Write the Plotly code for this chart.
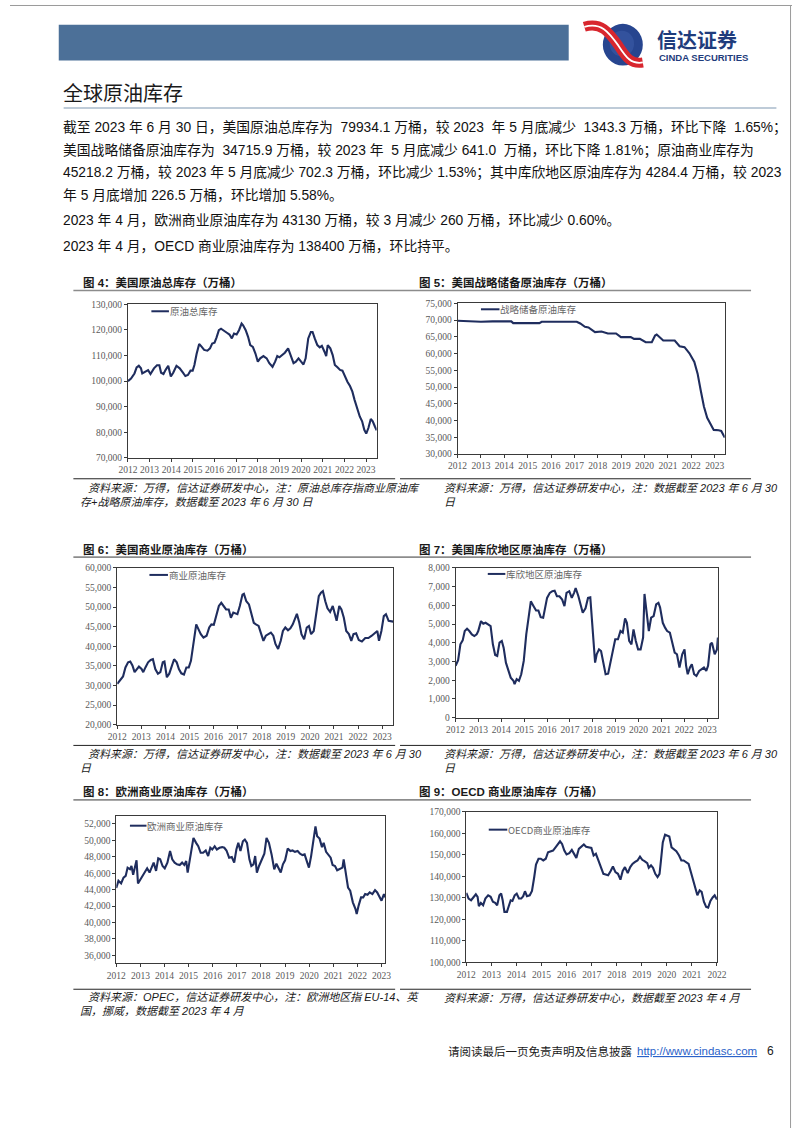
import plotly.graph_objects as go

# ---------------- data ----------------
YEARS = [2012, 2013, 2014, 2015, 2016, 2017, 2018, 2019, 2020, 2021, 2022, 2023]
OECD_YEARS = [2012, 2013, 2014, 2015, 2016, 2017, 2018, 2019, 2020, 2021, 2022]

US_TOTAL_X = [2012.00, 2012.14, 2012.30, 2012.40, 2012.50, 2012.60, 2012.66, 2012.80, 2012.93, 2013.04,
              2013.20, 2013.34, 2013.45, 2013.53, 2013.64, 2013.74, 2013.86, 2013.98, 2014.09, 2014.24,
              2014.39, 2014.54, 2014.65, 2014.77, 2014.89, 2014.99, 2015.07, 2015.17, 2015.29, 2015.40,
              2015.52, 2015.67, 2015.79, 2015.89, 2016.00, 2016.09, 2016.20, 2016.30, 2016.42, 2016.57,
              2016.69, 2016.80, 2016.90, 2017.02, 2017.13, 2017.25, 2017.32, 2017.44, 2017.55, 2017.65,
              2017.77, 2017.89, 2018.00, 2018.11, 2018.26, 2018.41, 2018.53, 2018.68, 2018.80, 2018.90,
              2019.00, 2019.13, 2019.25, 2019.40, 2019.50, 2019.65, 2019.76, 2019.88, 2020.00, 2020.11,
              2020.21, 2020.33, 2020.45, 2020.53, 2020.63, 2020.75, 2020.86, 2020.96, 2021.08, 2021.16,
              2021.23, 2021.35, 2021.46, 2021.56, 2021.68, 2021.80, 2021.91, 2022.02, 2022.14, 2022.26,
              2022.37, 2022.47, 2022.59, 2022.71, 2022.82, 2022.92, 2023.01, 2023.11, 2023.22, 2023.31,
              2023.41, 2023.49]
US_TOTAL_Y = [100000, 101000, 103000, 105400, 106000, 105000, 103000, 103700, 104300, 102800,
              105000, 106200, 106200, 103300, 102800, 104400, 106000, 101800, 103300, 106000,
              105000, 103300, 102000, 102400, 104100, 104100, 106300, 110600, 114500, 113500,
              112200, 111900, 112800, 114700, 115000, 117000, 119900, 120500, 119900, 118900,
              118200, 116700, 118600, 118200, 119900, 122500, 121800, 119900, 117300, 114100,
              113400, 110800, 107600, 108900, 109800, 108900, 107000, 105600, 107600, 109800,
              109300, 110200, 111100, 112800, 110200, 107000, 107600, 108900, 107600, 106500,
              108900, 116700, 119200, 119200, 116700, 114100, 113200, 113800, 111500, 109800,
              114100, 112800, 110200, 106300, 105400, 104400, 104100, 101800, 99800, 98100,
              95900, 92700, 89500, 86200, 84300, 81000, 79500, 81700, 85200, 84300,
              82300, 80800]

SPR_X = [2012.00, 2012.50, 2013.00, 2013.50, 2014.00, 2014.30, 2014.38, 2015.00, 2015.50, 2015.60,
         2016.50, 2017.10, 2017.25, 2017.45, 2017.60, 2017.88, 2018.16, 2018.43, 2018.78, 2018.99,
         2019.41, 2019.55, 2019.80, 2020.05, 2020.31, 2020.45, 2020.52, 2020.66, 2020.80, 2021.29,
         2021.50, 2021.71, 2021.92, 2022.13, 2022.27, 2022.40, 2022.54, 2022.68, 2022.82, 2022.96,
         2023.17, 2023.28, 2023.43]
SPR_Y = [69800, 69600, 69500, 69600, 69600, 69600, 69100, 69100, 69100, 69500,
         69500, 69500, 69000, 68000, 67800, 66400, 66600, 66000, 66000, 64900,
         64900, 64400, 64400, 63400, 63400, 65400, 65700, 64900, 63900, 63900,
         62200, 61900, 60100, 57500, 54000, 49100, 44200, 40800, 38800, 37200,
         37100, 36900, 34900]

US_COMM_X = [2012.00, 2012.13, 2012.24, 2012.34, 2012.45, 2012.54, 2012.63, 2012.72, 2012.81, 2012.90,
             2013.01, 2013.08, 2013.17, 2013.28, 2013.39, 2013.48, 2013.58, 2013.69, 2013.79, 2013.89,
             2013.96, 2014.06, 2014.16, 2014.27, 2014.36, 2014.47, 2014.56, 2014.66, 2014.77, 2014.87,
             2014.97, 2015.06, 2015.17, 2015.28, 2015.37, 2015.47, 2015.58, 2015.71, 2015.82, 2015.91,
             2016.01, 2016.12, 2016.22, 2016.32, 2016.41, 2016.52, 2016.63, 2016.72, 2016.82, 2016.90,
             2016.99, 2017.09, 2017.20, 2017.26, 2017.36, 2017.47, 2017.57, 2017.67, 2017.76, 2017.87,
             2017.98, 2018.07, 2018.17, 2018.28, 2018.38, 2018.48, 2018.57, 2018.68, 2018.79, 2018.88,
             2018.98, 2019.09, 2019.19, 2019.29, 2019.38, 2019.46, 2019.56, 2019.65, 2019.76, 2019.87,
             2019.96, 2020.05, 2020.16, 2020.27, 2020.37, 2020.46, 2020.54, 2020.64, 2020.73, 2020.84,
             2020.95, 2021.04, 2021.11, 2021.22, 2021.31, 2021.41, 2021.51, 2021.62, 2021.72, 2021.81,
             2021.92, 2022.03, 2022.16, 2022.30, 2022.43, 2022.57, 2022.70, 2022.80, 2022.87, 2022.97,
             2023.07, 2023.16, 2023.27, 2023.38, 2023.46]
US_COMM_Y = [30400, 31300, 32300, 34600, 35900, 36100, 35100, 33400, 34200, 34800,
             34200, 33400, 34600, 35900, 36500, 36700, 34200, 33000, 33400, 35900,
             36100, 32100, 33000, 35100, 36700, 35900, 34200, 33100, 32800, 34600,
             34600, 36300, 41400, 45600, 44400, 43100, 42200, 42700, 44800, 45600,
             45500, 47700, 50300, 51100, 50300, 49400, 49400, 47300, 48600, 48400,
             48200, 50300, 53200, 53400, 51500, 50700, 48200, 46000, 45600, 45200,
             43100, 41400, 42700, 43100, 43500, 42700, 40600, 39300, 41400, 43900,
             44800, 44100, 44600, 45600, 46900, 48300, 46000, 43100, 41800, 44800,
             45200, 43100, 43900, 48200, 52800, 53700, 54100, 51500, 49700, 48800,
             50300, 48200, 46500, 50300, 49400, 47300, 43900, 43100, 41400, 43100,
             43300, 41600, 41200, 42100, 42100, 42700, 43300, 43900, 41400, 43900,
             47700, 48200, 46500, 46300, 46300]

CUSHING_X = [2012.00, 2012.11, 2012.21, 2012.31, 2012.40, 2012.50, 2012.60, 2012.71, 2012.82, 2012.92,
             2012.99, 2013.11, 2013.21, 2013.31, 2013.42, 2013.53, 2013.63, 2013.73, 2013.82, 2013.92,
             2014.02, 2014.10, 2014.20, 2014.30, 2014.41, 2014.53, 2014.58, 2014.67, 2014.77, 2014.87,
             2014.98, 2015.09, 2015.19, 2015.29, 2015.41, 2015.52, 2015.62, 2015.72, 2015.83, 2015.92,
             2016.00, 2016.12, 2016.23, 2016.33, 2016.43, 2016.54, 2016.66, 2016.76, 2016.85, 2016.97,
             2017.08, 2017.18, 2017.25, 2017.37, 2017.47, 2017.56, 2017.68, 2017.79, 2017.89, 2017.96,
             2018.03, 2018.10, 2018.17, 2018.27, 2018.36, 2018.46, 2018.56, 2018.67, 2018.78, 2018.88,
             2018.98, 2019.10, 2019.21, 2019.31, 2019.41, 2019.49, 2019.59, 2019.69, 2019.78, 2019.88,
             2019.98, 2020.09, 2020.20, 2020.26, 2020.35, 2020.45, 2020.55, 2020.66, 2020.77, 2020.87,
             2020.94, 2021.06, 2021.16, 2021.25, 2021.37, 2021.48, 2021.58, 2021.68, 2021.79, 2021.91,
             2022.01, 2022.08, 2022.15, 2022.25, 2022.33, 2022.43, 2022.53, 2022.65, 2022.76, 2022.86,
             2022.96, 2023.04, 2023.14, 2023.21, 2023.33, 2023.43, 2023.47]
CUSHING_Y = [2770, 3070, 3920, 4130, 4630, 4750, 4630, 4450, 4360, 4450,
             4630, 5160, 5020, 5070, 4980, 4890, 3920, 3350, 3300, 4010,
             4100, 3740, 2940, 2590, 2140, 1970, 1790, 2060, 1970, 2320,
             3030, 4450, 5510, 6220, 5960, 5730, 5730, 5370, 5340, 5960,
             6400, 6670, 6760, 6790, 6490, 6490, 6310, 5960, 6670, 6760,
             6400, 6670, 6930, 6490, 6050, 5610, 5840, 6400, 6430, 5250,
             4100, 2940, 3390, 3650, 3560, 2940, 2320, 2350, 3030, 3740,
             4190, 4190, 4630, 4540, 5300, 5070, 4100, 3920, 4720, 4100,
             3650, 3650, 4280, 6610, 5510, 4630, 5340, 5430, 6050, 6130,
             5900, 5070, 4810, 4630, 4540, 4010, 3480, 3390, 2680, 3390,
             3650, 2770, 2320, 2680, 2850, 2320, 2230, 2500, 2590, 2680,
             2500, 2770, 3920, 4010, 3390, 3650, 4280]

EUROPE_X = [2012.00, 2012.09, 2012.20, 2012.30, 2012.39, 2012.47, 2012.57, 2012.63, 2012.70, 2012.80,
            2012.84, 2012.90, 2013.01, 2013.11, 2013.20, 2013.28, 2013.38, 2013.47, 2013.55, 2013.65,
            2013.74, 2013.82, 2013.92, 2014.01, 2014.12, 2014.23, 2014.32, 2014.42, 2014.52, 2014.63,
            2014.73, 2014.82, 2014.90, 2014.96, 2015.04, 2015.13, 2015.20, 2015.31, 2015.40, 2015.50,
            2015.60, 2015.71, 2015.81, 2015.90, 2015.98, 2016.08, 2016.17, 2016.28, 2016.39, 2016.48,
            2016.57, 2016.68, 2016.79, 2016.89, 2016.98, 2017.06, 2017.15, 2017.25, 2017.33, 2017.42,
            2017.52, 2017.60, 2017.69, 2017.76, 2017.83, 2017.92, 2018.03, 2018.14, 2018.23, 2018.33,
            2018.44, 2018.55, 2018.64, 2018.73, 2018.82, 2018.91, 2019.00, 2019.11, 2019.22, 2019.31,
            2019.41, 2019.52, 2019.62, 2019.72, 2019.81, 2019.92, 2019.99, 2020.08, 2020.16, 2020.26,
            2020.33, 2020.43, 2020.53, 2020.60, 2020.70, 2020.80, 2020.89, 2020.97, 2021.07, 2021.16,
            2021.27, 2021.38, 2021.43, 2021.51, 2021.61, 2021.70, 2021.81, 2021.92, 2021.97, 2022.05,
            2022.15, 2022.24, 2022.32, 2022.42, 2022.51, 2022.62, 2022.73, 2022.82, 2022.92, 2023.00,
            2023.10, 2023.16]
EUROPE_Y = [44200, 45070, 44750, 45470, 45670, 46680, 46480, 46880, 45800, 47290,
            47570, 44750, 45270, 45800, 46200, 46600, 46080, 46680, 47290, 46280,
            47810, 47690, 46880, 46600, 47290, 48700, 47690, 47290, 47080, 47000,
            47290, 47000, 47480, 46080, 47690, 49100, 50300, 49700, 49290, 48490,
            48490, 48770, 48090, 49100, 48890, 49290, 48890, 49100, 49180, 49100,
            48770, 47890, 47970, 47290, 48890, 49700, 48700, 49900, 50100, 49700,
            47690, 46880, 47080, 48090, 46080, 46880, 47570, 48370, 50300, 49700,
            48290, 46480, 47160, 46680, 46080, 47080, 47570, 49010, 48700, 48770,
            48610, 48700, 48370, 48210, 48290, 47290, 46680, 48090, 49700, 51710,
            50500, 50220, 49180, 49700, 48610, 48290, 47890, 47000, 46880, 46360,
            46480, 46680, 47690, 46080, 44260, 43860, 42450, 41640, 41040, 42050,
            43050, 43050, 43460, 43370, 43660, 43460, 43940, 43660, 43130, 42650,
            43460, 43050]

OECD_X = [2012.00, 2012.09, 2012.19, 2012.28, 2012.38, 2012.45, 2012.50, 2012.58, 2012.67, 2012.76,
          2012.87, 2012.97, 2013.06, 2013.15, 2013.23, 2013.32, 2013.39, 2013.45, 2013.52, 2013.62,
          2013.71, 2013.77, 2013.84, 2013.93, 2014.01, 2014.10, 2014.19, 2014.27, 2014.34, 2014.42,
          2014.53, 2014.62, 2014.71, 2014.78, 2014.88, 2014.97, 2015.07, 2015.17, 2015.26, 2015.35,
          2015.46, 2015.56, 2015.65, 2015.74, 2015.82, 2015.91, 2016.00, 2016.11, 2016.21, 2016.30,
          2016.39, 2016.49, 2016.60, 2016.69, 2016.78, 2016.88, 2016.99, 2017.08, 2017.17, 2017.27,
          2017.38, 2017.47, 2017.56, 2017.66, 2017.76, 2017.85, 2017.95, 2018.05, 2018.15, 2018.24,
          2018.33, 2018.44, 2018.54, 2018.63, 2018.72, 2018.83, 2018.93, 2019.02, 2019.11, 2019.22,
          2019.28, 2019.37, 2019.45, 2019.54, 2019.63, 2019.71, 2019.76, 2019.84, 2019.93, 2020.02,
          2020.10, 2020.19, 2020.28, 2020.38, 2020.49, 2020.58, 2020.67, 2020.77, 2020.87, 2020.96,
          2021.05, 2021.13, 2021.22, 2021.31, 2021.39, 2021.48, 2021.57, 2021.65, 2021.74, 2021.83,
          2021.91, 2022.00]
OECD_Y = [132300, 129700, 128900, 130200, 131700, 130500, 126200, 127700, 126600, 129700,
          131200, 130500, 128200, 127700, 126600, 131200, 132000, 128900, 123500, 123500,
          126600, 128900, 128600, 131200, 132000, 129700, 129700, 130800, 133100, 130800,
          131200, 133200, 139700, 145500, 148200, 148200, 147400, 148200, 151200, 151700,
          152000, 153500, 155100, 156300, 155100, 152000, 150200, 150800, 152300, 150500,
          148600, 152800, 153800, 154800, 153800, 153500, 153200, 149700, 150500, 147400,
          143500, 141200, 140900, 140500, 142500, 144600, 142000, 141200, 138500, 142500,
          144300, 141500, 144300, 145800, 146600, 147400, 149200, 147700, 147100, 146200,
          144000, 145100, 144000, 141200, 139700, 141200, 146600, 155800, 159400, 158900,
          158500, 153500, 152800, 151700, 149700, 147400, 147400, 146600, 145800, 142000,
          138200, 135100, 131200, 133500, 132800, 128200, 125800, 125500, 128600, 130200,
          131200, 129200]

# ---------------- page helpers ----------------
W, H = 802, 1133
def PX(x): return x / W
def PY(y): return 1 - y / H

NAVY = "#1f2d5e"
SANS = "Liberation Sans, Noto Sans CJK SC, sans-serif"
CJK = "Noto Sans CJK SC, sans-serif"
TICKFONT = "Liberation Serif, Noto Sans CJK SC, serif"

fig = go.Figure()
shapes = []
annotations = []

def line(x0, y0, x1, y1, color, width=1):
    shapes.append(dict(type="line", xref="paper", yref="paper",
                       x0=PX(x0), y0=PY(y0), x1=PX(x1), y1=PY(y1),
                       line=dict(color=color, width=width)))

def text(x, y, s, size, color="#000000", family=SANS, xanchor="left",
         weight="normal", style="normal", lineposition="none"):
    annotations.append(dict(xref="paper", yref="paper", x=PX(x), y=PY(y), text=s,
                            showarrow=False, xanchor=xanchor, yanchor="middle",
                            borderpad=0, borderwidth=0,
                            font=dict(size=size, color=color, family=family, weight=weight,
                                      style=style, lineposition=lineposition),
                            align="left"))

# page border (top and right)
line(0, 0.5, 802, 0.5, "#9a9a9a", 1)
line(800.5, 0, 800.5, 1133, "#9a9a9a", 1)

# header bar
shapes.append(dict(type="rect", xref="paper", yref="paper", x0=PX(50), x1=PX(573),
                   y0=PY(56), y1=PY(20), fillcolor="#4c7098", line=dict(width=0)))
# logo
shapes.append(dict(type="circle", xref="paper", yref="paper", x0=PX(608), x1=PX(649),
                   y0=PY(61), y1=PY(19), fillcolor="#27458f", line=dict(width=0)))
shapes.append(dict(type="circle", xref="paper", yref="paper", x0=PX(615), x1=PX(640),
                   y0=PY(52), y1=PY(26), fillcolor="#3c5ca6", line=dict(width=0), opacity=0.6))

def ribbon_path(pts):
    (a, b, c, d, e, f, g) = pts
    s = "M {:.5f} {:.5f} C {:.5f} {:.5f} {:.5f} {:.5f} {:.5f} {:.5f} C {:.5f} {:.5f} {:.5f} {:.5f} {:.5f} {:.5f}".format(
        PX(a[0]), PY(a[1]), PX(b[0]), PY(b[1]), PX(c[0]), PY(c[1]), PX(d[0]), PY(d[1]),
        PX(e[0]), PY(e[1]), PX(f[0]), PY(f[1]), PX(g[0]), PY(g[1]))
    return s

rib = [(589, 22), (606, 17), (614, 27), (624, 41), (632, 53), (637, 60), (649, 58)]
shapes.append(dict(type="path", xref="paper", yref="paper", path=ribbon_path(rib),
                   line=dict(color="#d8262e", width=10)))
shapes.append(dict(type="path", xref="paper", yref="paper", path=ribbon_path(rib),
                   line=dict(color="#ffffff", width=1.8)))

text(664, 35, "信达证券", 20, "#1f3c7c", CJK, weight="bold")
text(666, 53, "CINDA SECURITIES", 9.5, "#1f3c7c", "Liberation Sans, Arial", weight="bold")

# section title
text(54, 88, "全球原油库存", 20, "#1a1a1a", CJK)
line(55, 104, 786, 104, "#a9bacb", 1.5)

# body paragraphs
BODY = [
    (124, "截至 2023 年 6 月 30 日，美国原油总库存为  79934.1 万桶，较 2023  年 5 月底减少  1343.3 万桶，环比下降  1.65%；"),
    (147, "美国战略储备原油库存为  34715.9 万桶，较 2023 年  5 月底减少 641.0  万桶，环比下降 1.81%；原油商业库存为"),
    (170, "45218.2 万桶，较 2023 年 5 月底减少 702.3 万桶，环比减少 1.53%；其中库欣地区原油库存为 4284.4 万桶，较 2023"),
    (192, "年 5 月底增加 226.5 万桶，环比增加 5.58%。"),
    (217, "2023 年 4 月，欧洲商业原油库存为 43130 万桶，较 3 月减少 260 万桶，环比减少 0.60%。"),
    (244, "2023 年 4 月，OECD 商业原油库存为 138400 万桶，环比持平。"),
]
for yy, s in BODY:
    text(54, yy, s, 13.8, "#111111")

# ---------------- panels ----------------
panels = [
    dict(x=US_TOTAL_X, y=US_TOTAL_Y, name="原油总库存", box=(121, 376, 302, 457),
         yr=(70000, 130000), dt=10000, xr=(2012, 2023.49), ticks=YEARS, leg=(145, 163, 309)),
    dict(x=SPR_X, y=SPR_Y, name="战略储备原油库存", box=(459, 733, 301, 453),
         yr=(30000, 75000), dt=5000, xr=(2012, 2023.43), ticks=YEARS, leg=(483, 502, 307)),
    dict(x=US_COMM_X, y=US_COMM_Y, name="商业原油库存", box=(110, 393, 568, 726),
         yr=(20000, 60000), dt=5000, xr=(2012, 2023.46), ticks=YEARS, leg=(143, 162, 575)),
    dict(x=CUSHING_X, y=CUSHING_Y, name="库欣地区原油库存", box=(457, 726, 568, 719),
         yr=(0, 8000), dt=1000, xr=(2012, 2023.47), ticks=YEARS, leg=(490, 508, 574)),
    dict(x=EUROPE_X, y=EUROPE_Y, name="欧洲商业原油库存", box=(109, 385, 818, 967),
         yr=(35000, 53000), dt=2000, xr=(2012, 2023.16), ticks=YEARS, leg=(123, 140, 828)),
    dict(x=OECD_X, y=OECD_Y, name="OECD商业原油库存", box=(468, 725, 814, 966),
         yr=(100000, 170000), dt=10000, xr=(2012, 2022.0), ticks=OECD_YEARS, leg=(491, 510, 832)),
]

layout_axes = {}
for i, p in enumerate(panels, start=1):
    sfx = "" if i == 1 else str(i)
    l, r, t, b = p["box"]
    fig.add_trace(go.Scatter(x=p["x"], y=p["y"], mode="lines", name=p["name"],
                             line=dict(color=NAVY, width=2.1), showlegend=False,
                             xaxis="x" + sfx, yaxis="y" + sfx, hoverinfo="skip"))
    common = dict(showline=True, mirror=True, linecolor="#3a3a3a", linewidth=1,
                  showgrid=False, zeroline=False, ticks="outside", ticklen=3,
                  tickcolor="#3a3a3a", tickfont=dict(size=9.5, color="#595959", family=TICKFONT))
    layout_axes["xaxis" + sfx] = dict(domain=[PX(l), PX(r)], range=list(p["xr"]),
                                     anchor="y" + sfx, tickmode="array",
                                     tickvals=p["ticks"], ticktext=[str(v) for v in p["ticks"]],
                                     **common)
    layout_axes["yaxis" + sfx] = dict(domain=[PY(b), PY(t)], range=list(p["yr"]),
                                     anchor="x" + sfx, dtick=p["dt"], tick0=0,
                                     tickformat=",d", **common)
    lx0, lx1, ly = p["leg"]
    line(lx0, ly, lx1, ly, NAVY, 2)
    text(lx1 + 1, ly, p["name"], 9.5, "#666666", CJK)

# captions and sources
CAPTIONS = [
    (75, 280, "图 4：美国原油总库存（万桶）"),
    (419, 280, "图 5：美国战略储备原油库存（万桶）"),
    (75, 549, "图 6：美国商业原油库存（万桶）"),
    (419, 549, "图 7：美国库欣地区原油库存（万桶）"),
    (75, 794, "图 8：欧洲商业原油库存（万桶）"),
    (419, 794, "图 9：OECD 商业原油库存（万桶）"),
]
for x, y, s in CAPTIONS:
    text(x, y, s, 11.5, "#1a1a1a", SANS, weight="bold")

for y in (288, 557, 802):
    line(65, y, 760, y, "#8c8c8c", 1.6)
for y in (478, 747, 993):
    line(65, y, 395, y, "#222222", 1)
    line(400, y, 760, y, "#222222", 1)

SOURCES = [
    (80, 487, "资料来源：万得，信达证券研发中心，注：原油总库存指商业原油库"),
    (72, 501, "存+战略原油库存，数据截至 2023 年 6 月 30 日"),
    (445, 487, "资料来源：万得，信达证券研发中心，注：数据截至 2023 年 6 月 30"),
    (445, 501, "日"),
    (80, 756, "资料来源：万得，信达证券研发中心，注：数据截至 2023 年 6 月 30"),
    (72, 770, "日"),
    (445, 756, "资料来源：万得，信达证券研发中心，注：数据截至 2023 年 6 月 30"),
    (445, 770, "日"),
    (80, 1001, "资料来源：OPEC，信达证券研发中心，注：欧洲地区指 EU-14、英"),
    (72, 1015, "国，挪威，数据截至 2023 年 4 月"),
    (445, 1002, "资料来源：万得，信达证券研发中心，数据截至 2023 年 4 月"),
]
for x, y, s in SOURCES:
    text(x, y, s, 11, "#1a1a1a", SANS, style="italic")

# footer
text(449, 1055, "请阅读最后一页免责声明及信息披露", 11.5, "#1a1a1a", CJK)
text(643, 1055, "http://www.cindasc.com", 11.5, "#2a62c9", SANS, lineposition="under")
text(776, 1055, "6", 12, "#1a1a1a", SANS)

fig.update_layout(width=W, height=H, margin=dict(l=0, r=0, t=0, b=0),
                  paper_bgcolor="#ffffff", plot_bgcolor="#ffffff",
                  shapes=shapes, annotations=annotations, **layout_axes)

PAGE_FIX = (
    "var s=document.createElement('style');"
    "s.innerHTML='html,body{margin:0!important;padding:0!important;overflow:hidden!important;}';"
    "document.head.appendChild(s);"
)
fig.write_html("out.html", config={"displayModeBar": False}, post_script=PAGE_FIX)
